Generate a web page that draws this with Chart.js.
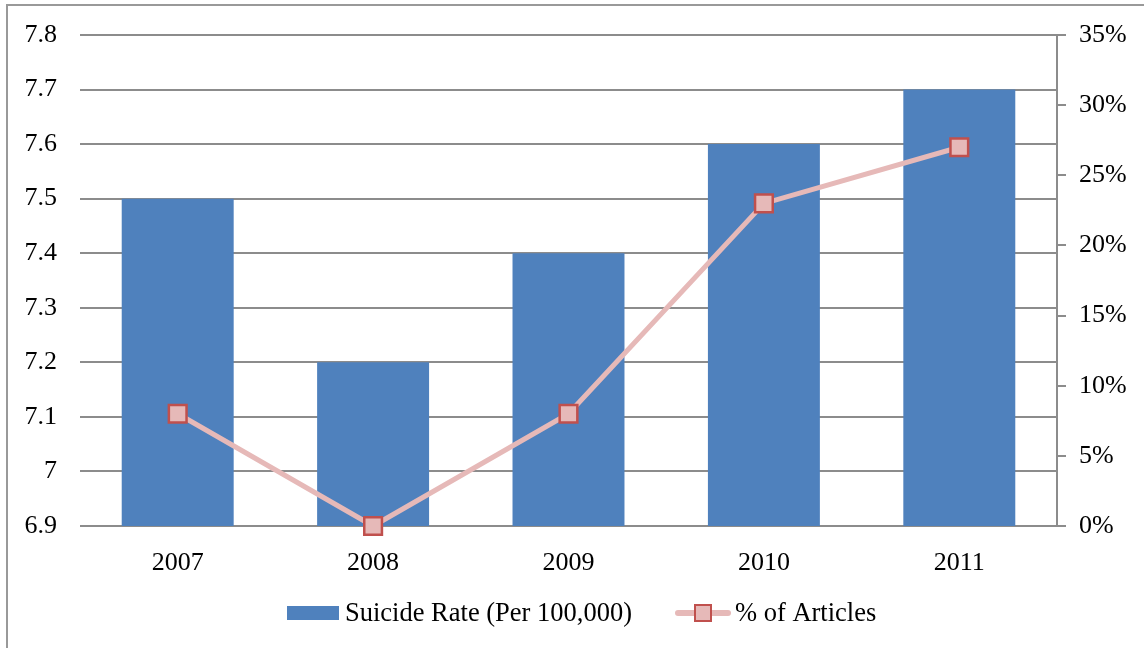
<!DOCTYPE html>
<html>
<head>
<meta charset="utf-8">
<script src="https://cdn.jsdelivr.net/npm/chart.js@4/dist/chart.umd.min.js"></script>
<style>
  html, body { margin: 0; padding: 0; background: #fff; }
  #wrap { position: relative; width: 1144px; height: 648px; overflow: hidden; }
  #frame { position: absolute; left: 6px; top: 4px; width: 1200px; height: 700px;
           border-left: 2px solid #999; border-top: 2px solid #999; box-sizing: border-box; }
  canvas { position: absolute; left: 0; top: 0; }
</style>
</head>
<body>
<div id="wrap">
  <div id="frame"></div>
  <canvas id="c" width="1144" height="648"></canvas>
</div>
<script>
const years = ['2007', '2008', '2009', '2010', '2011'];
const suicideRate = [7.5, 7.2, 7.4, 7.6, 7.7];
const articlePct = [8, 0, 8, 23, 27];
const rateTicks = [6.9, 7.0, 7.1, 7.2, 7.3, 7.4, 7.5, 7.6, 7.7, 7.8];
const pctTicks = [0, 5, 10, 15, 20, 25, 30, 35];

const FONT = "'Liberation Serif', 'Times New Roman', serif";
const BAR = '#4f81bd';
const LINE = '#e6b9b8';
const MARK_EDGE = '#c0504d';
const GRID = '#8c8c8c';

// Legend below the x labels: a box for the bars, a line with a square for the line series
const bottomLegend = {
  id: 'bottomLegend',
  afterDraw(chart) {
    const ctx = chart.ctx;
    const bars = chart.data.datasets.find(d => d.type === 'bar');
    const line = chart.data.datasets.find(d => d.type === 'line');
    const y = 613;
    ctx.save();
    ctx.font = '26.5px ' + FONT;
    ctx.textBaseline = 'middle';
    // bar item
    ctx.fillStyle = bars.backgroundColor;
    ctx.fillRect(287, y - 7, 52, 14);
    ctx.fillStyle = '#000';
    ctx.fillText(bars.label, 345, y + 1);
    // line item
    ctx.strokeStyle = line.borderColor;
    ctx.lineWidth = 6;
    ctx.lineCap = 'round';
    ctx.beginPath();
    ctx.moveTo(678, y);
    ctx.lineTo(728, y);
    ctx.stroke();
    ctx.fillStyle = line.pointBackgroundColor;
    ctx.strokeStyle = line.pointBorderColor;
    ctx.lineWidth = 2;
    ctx.fillRect(695, y - 8, 16, 16);
    ctx.strokeRect(695, y - 8, 16, 16);
    ctx.fillStyle = '#000';
    ctx.fillText(line.label, 735, y + 1);
    ctx.restore();
  }
};

new Chart(document.getElementById('c'), {
  data: {
    labels: years,
    datasets: [
      {
        type: 'line',
        label: '% of Articles',
        data: articlePct,
        yAxisID: 'y1',
        borderColor: LINE,
        borderWidth: 5,
        pointStyle: 'rect',
        pointRadius: 12.5,
        pointBackgroundColor: LINE,
        pointBorderColor: MARK_EDGE,
        pointBorderWidth: 2.5,
        tension: 0,
        clip: false,
        order: 0
      },
      {
        type: 'bar',
        label: 'Suicide Rate (Per 100,000)',
        data: suicideRate,
        yAxisID: 'y',
        backgroundColor: BAR,
        borderWidth: 0,
        categoryPercentage: 1,
        barPercentage: 0.573,
        order: 1
      }
    ]
  },
  options: {
    responsive: false,
    animation: false,
    layout: { padding: { top: 35, left: 0, right: 0, bottom: 0 } },
    plugins: { legend: { display: false }, tooltip: { enabled: false } },
    scales: {
      x: {
        offset: true,
        grid: { display: false },
        border: { display: false },
        ticks: { color: '#000', font: { family: FONT, size: 26 }, padding: 14 },
        afterFit(s) { s.height = 122; }
      },
      y: {
        position: 'left',
        min: 6.9,
        max: 7.8,
        afterBuildTicks(s) { s.ticks = rateTicks.map(v => ({ value: v })); },
        ticks: {
          color: '#000',
          font: { family: FONT, size: 26, lineHeight: 0.8 },
          padding: 23,
          callback: v => String(Math.round(v * 10) / 10)
        },
        grid: { color: GRID, lineWidth: 2, drawTicks: false },
        border: { display: false },
        afterFit(s) { s.width = 80; }
      },
      y1: {
        position: 'right',
        min: 0,
        max: 35,
        afterBuildTicks(s) { s.ticks = pctTicks.map(v => ({ value: v })); },
        ticks: {
          color: '#000',
          font: { family: FONT, size: 26, lineHeight: 0.8 },
          padding: 13,
          callback: v => v + '%'
        },
        grid: { drawOnChartArea: false, color: GRID, lineWidth: 2, tickLength: 9 },
        border: { display: true, color: GRID, width: 2 },
        afterFit(s) { s.width = 87; }
      }
    }
  },
  plugins: [bottomLegend]
});
</script>
</body>
</html>
